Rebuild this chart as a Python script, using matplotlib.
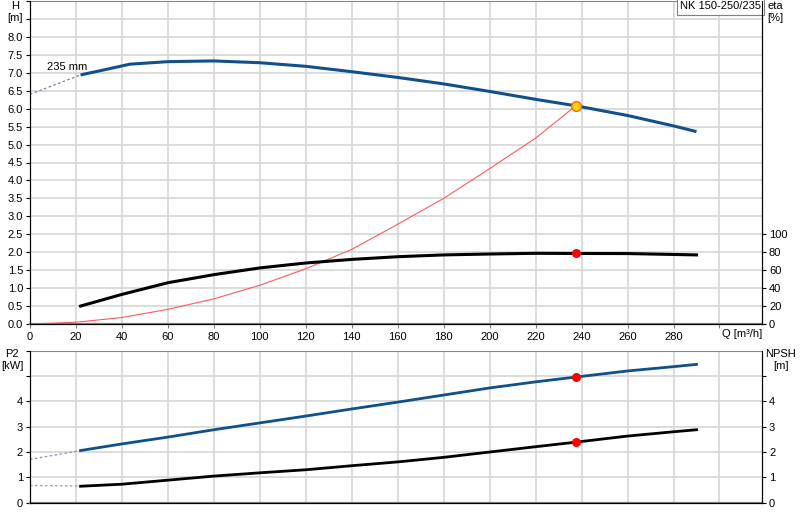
import numpy as np
import matplotlib
matplotlib.use('Agg')
import matplotlib.pyplot as plt

plt.rcParams['font.family'] = ['Liberation Sans', 'DejaVu Sans']
plt.rcParams['font.size'] = 8

# Pumpenkurve H(Q)
q_h = [22, 30, 43.5, 60, 80, 100, 120, 140, 160, 180, 200, 220, 237.5, 260, 280, 290]
h = [6.94, 7.05, 7.24, 7.31, 7.33, 7.28, 7.18, 7.03, 6.87, 6.69, 6.48, 6.26, 6.08, 5.81, 5.52, 5.36]
q_h_ext = [0, 22]
h_ext = [6.40, 6.94]

# Wirkungsgrad
q_eta = [22, 40, 60, 80, 100, 120, 140, 160, 180, 200, 220, 237.5, 260, 280, 290]
eta = [20, 33, 46, 55, 62.5, 68, 72, 75, 77, 78, 78.8, 78.6, 78.5, 77.5, 77]

# Anlagenkennlinie
q_sys = [0, 20, 40, 60, 80, 100, 120, 140, 160, 180, 200, 220, 237.5]
h_sys = [0, 0.05, 0.18, 0.41, 0.70, 1.08, 1.54, 2.08, 2.78, 3.50, 4.33, 5.18, 6.08]

# P2 und NPSH
q_low = [22, 40, 60, 80, 100, 120, 140, 160, 180, 200, 220, 237.5, 260, 280, 290]
p2 = [2.06, 2.32, 2.59, 2.88, 3.15, 3.42, 3.70, 3.97, 4.25, 4.53, 4.77, 4.96, 5.20, 5.37, 5.46]
npsh = [0.65, 0.73, 0.89, 1.05, 1.18, 1.30, 1.46, 1.61, 1.79, 2.00, 2.21, 2.39, 2.63, 2.80, 2.88]
q_low_ext = [0, 22]
p2_ext = [1.71, 2.06]
npsh_ext = [0.68, 0.66]

# Betriebspunkt
q_op = 237.5
h_op = 6.08
eta_op = 78.6
p2_op = 4.96
npsh_op = 2.39

blue = '#10508c'
grid_c = '#d6d6d6'
W, H = 800, 520

fig = plt.figure(figsize=(8, 5.2), dpi=100)
ax = fig.add_axes([30/W, 1-324/H, 732/W, 323/H])
ax_e = ax.twinx()
axb = fig.add_axes([30/W, 1-502.7/H, 732/W, 152/H])
axb_r = axb.twinx()

xmax = 318.5
for a in (ax, axb):
    a.set_xlim(0, xmax)
    a.set_xticks(list(range(0, 301, 20)))
    a.grid(True, color=grid_c, lw=1.2)
    a.set_axisbelow(True)
    a.spines['left'].set_color('black')
    a.spines['top'].set_color('#888888')
    a.spines['bottom'].set_color('#808080')
    a.spines['bottom'].set_linewidth(1.6)
    a.tick_params(axis='y', length=3, pad=2)

# oberes Diagramm
ax.set_ylim(0, 9)
yt = np.arange(0, 9.01, 0.5)
ax.set_yticks(yt)
ax.set_yticklabels(['%.1f' % v if v <= 8.0 else '' for v in yt])
ax.set_xticklabels([str(v) if v <= 280 else '' for v in range(0, 301, 20)])
ax.tick_params(axis='x', length=3, pad=3, color='#808080')

ax.plot(q_h_ext, h_ext, ls=(0, (2, 2)), color='#6f82a8', lw=0.9)
ax.plot(q_h, h, color=blue, lw=2.2, solid_capstyle='butt')
ax.plot(q_sys, h_sys, color='#ff5a5a', lw=0.8)
ax.plot([q_op], [h_op], 'o', ms=7, mfc='#ffd400', mec='#ff6a00', mew=1)
ax.text(7.3, 7.15, '235 mm', ha='left', va='center')
ax.text(xmax - 0.5, 8.99, 'NK 150-250/235', ha='right', va='top',
        bbox=dict(boxstyle='square,pad=0.3', fc='white', ec='#808080', lw=0.8))
ax.text(301, -0.28, 'Q [m³/h]', ha='left', va='center')

ax_e.set_ylim(0, 360)
ax_e.set_yticks(list(range(0, 101, 20)))
ax_e.tick_params(axis='y', length=3, pad=2)
ax_e.spines['right'].set_color('black')
ax_e.spines['top'].set_visible(False)
ax_e.plot(q_eta, eta, color='black', lw=2.2)
ax_e.plot([q_op], [eta_op], 'o', ms=5.5, color='#ff0000')

# unteres Diagramm
axb.set_ylim(0, 6)
axb.set_yticks(range(0, 7))
axb.set_yticklabels(['0', '1', '2', '3', '4', '', ''])
axb.tick_params(axis='x', length=0, labelbottom=False)
axb.plot(q_low_ext, p2_ext, ls=(0, (2, 2)), color='#7f93b8', lw=0.9)
axb.plot(q_low, p2, color=blue, lw=2.0)
axb.plot([q_op], [p2_op], 'o', ms=5.5, color='#ff0000')

axb_r.set_ylim(0, 6)
axb_r.set_yticks(range(0, 6))
axb_r.set_yticklabels(['0', '1', '2', '3', '4', ''])
axb_r.tick_params(axis='y', length=3, pad=2)
axb_r.spines['top'].set_visible(False)
axb_r.spines['right'].set_color('black')
axb_r.plot(q_low_ext, npsh_ext, ls=(0, (2, 2)), color='#999999', lw=0.9)
axb_r.plot(q_low, npsh, color='black', lw=2.0)
axb_r.plot([q_op], [npsh_op], 'o', ms=5.5, color='#ff0000')

# Achsentitel
fig.text(15/W, 1-1/H, 'H\n[m]', ha='center', va='top', linespacing=1.25)
fig.text(767/W, 1-1/H, 'eta\n[%]', ha='left', va='top', linespacing=1.25)
fig.text(12/W, 1-349/H, 'P2\n[kW]', ha='center', va='top', linespacing=1.25)
fig.text(781/W, 1-349/H, 'NPSH\n[m]', ha='center', va='top', linespacing=1.25)

fig.savefig('out.png', dpi=100)
